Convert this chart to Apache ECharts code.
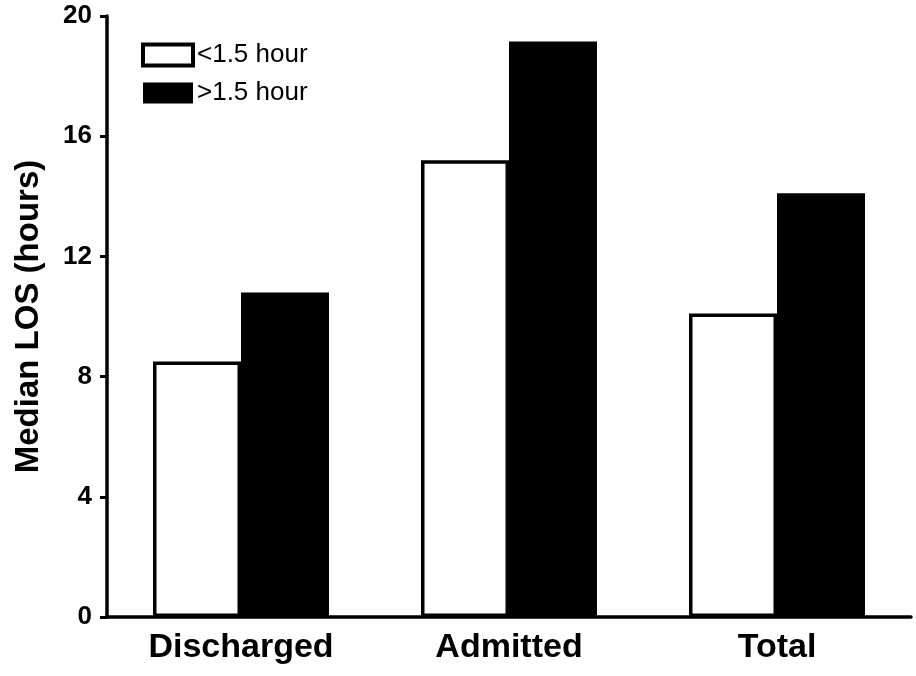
<!DOCTYPE html>
<html>
<head>
<meta charset="utf-8">
<script src="https://cdn.jsdelivr.net/npm/echarts@6/dist/echarts.min.js"></script>
<style>
html,body{margin:0;padding:0;background:#fff;}
#chart{width:916px;height:676px;}
</style>
</head>
<body>
<div id="chart"></div>
<script>
const categories = ['Discharged', 'Admitted', 'Total'];
const seriesNames = ['<1.5 hour', '>1.5 hour'];
const under15 = [8.5, 15.2, 10.1];
const over15 = [10.8, 19.15, 14.1];
const yTicks = {min: 0, max: 20, interval: 4};

const FONT = 'Arial, "Liberation Sans", sans-serif';
const chart = echarts.init(document.getElementById('chart'));
chart.setOption({
  animation: false,
  backgroundColor: '#fff',
  grid: {left: 107, right: 5, top: 16, bottom: 59, containLabel: false},
  legend: {
    orient: 'vertical',
    left: 136,
    top: 37,
    itemWidth: 50,
    itemHeight: 21,
    itemGap: 12,
    icon: 'rect',
    textStyle: {color: '#000', fontSize: 26, fontFamily: FONT, padding: [0,0,0,-1]},
    data: [
      {name: seriesNames[0], itemStyle: {color: '#fff', borderColor: '#000', borderWidth: 4}},
      {name: seriesNames[1], itemStyle: {color: '#000', borderColor: '#000', borderWidth: 0}}
    ]
  },
  xAxis: {
    type: 'category',
    data: categories,
    axisLine: {lineStyle: {color: '#000', width: 3.5}},
    axisTick: {alignWithLabel: true, length: 7, lineStyle: {color: '#000', width: 3}},
    axisLabel: {color: '#000', fontSize: 34, fontWeight: 'bold', fontFamily: FONT, margin: 14}
  },
  yAxis: {
    type: 'value',
    min: yTicks.min, max: yTicks.max, interval: yTicks.interval,
    name: 'Median LOS (hours)',
    nameLocation: 'middle',
    nameGap: 62,
    nameTextStyle: {color: '#000', fontSize: 33, fontWeight: 'bold', fontFamily: FONT},
    axisLine: {show: true, lineStyle: {color: '#000', width: 3.5}},
    axisTick: {show: true, length: 7, lineStyle: {color: '#000', width: 3}},
    axisLabel: {color: '#000', fontSize: 26, fontWeight: 'bold', fontFamily: FONT, margin: 15},
    splitLine: {show: false}
  },
  series: [
    {
      name: seriesNames[0], type: 'bar', data: under15,
      barWidth: 88, barGap: '0%',
      itemStyle: {color: '#fff', borderColor: '#000', borderWidth: 3.5}
    },
    {
      name: seriesNames[1], type: 'bar', data: over15,
      barWidth: 88, barGap: '0%',
      itemStyle: {color: '#000', borderColor: '#000', borderWidth: 3}
    }
  ]
});
</script>
</body>
</html>
